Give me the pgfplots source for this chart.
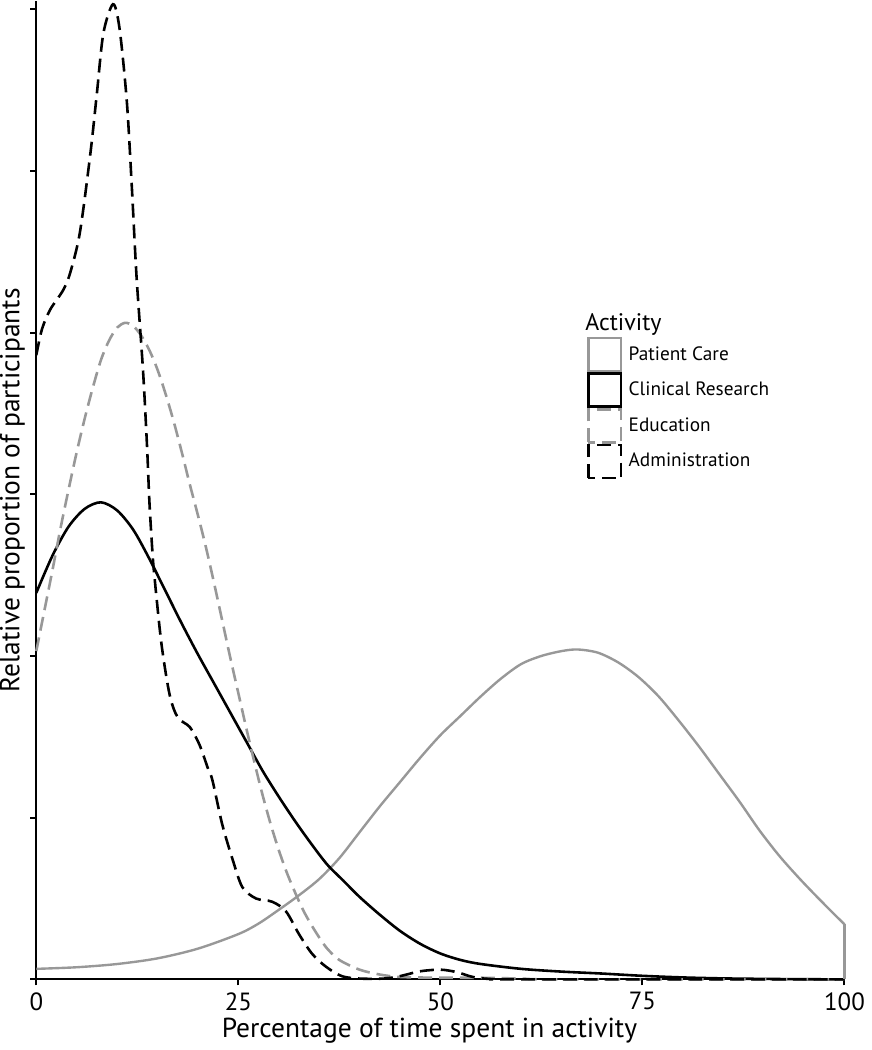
\documentclass[border=0pt]{standalone}
\usepackage{fontspec}
\setmainfont{PT Sans}
\usepackage{pgfplots}
\pgfplotsset{compat=1.18}
\definecolor{lgray}{RGB}{152,152,152}
\begin{document}
\begin{tikzpicture}
\begin{axis}[
  scale only axis,
  width=406pt, height=491.5pt,
  xmin=0, xmax=100, ymin=0, ymax=6.05,
  axis lines*=left,
  axis line style={line width=1pt},
  xtick={0,25,50,75,100},
  ytick={0,1,2,3,4,5,6},
  yticklabels={},
  tick align=outside,
  major tick length=3pt,
  tick style={line width=1pt, black},
  /pgf/number format/assume math mode=true,
  ticklabel style={font=\fontsize{12.5}{14}\selectfont},
  xlabel={Percentage of time spent in activity},
  ylabel={Relative proportion of participants},
  xlabel style={font=\fontsize{13.8}{15}\selectfont, yshift=3pt, xshift=-5.5pt},
  every axis y label/.style={at={([xshift=-5.5pt]rel axis cs:0,0.5)}, rotate=90, anchor=south, inner sep=0pt, font=\fontsize{13.8}{15}\selectfont},
  clip=false,
  legend image code/.code={\draw[#1] (0pt,-8.3pt) rectangle (16.5pt,8.3pt);},
  legend style={draw=none, fill=none, at={(axis cs:68.1,3.975)}, anchor=north west,
    font=\fontsize{9.7}{11}\selectfont, row sep=0pt, column sep=2.5pt, inner sep=0pt,
    nodes={inner sep=0.6pt, anchor=west}},
  legend cell align=left,
]
\addplot[lgray, line width=1.2pt, smooth] coordinates {
(0,0.065) (5,0.075) (10,0.095) (15,0.13) (20,0.19) (25,0.28) (27.5,0.345) (30,0.43)
(32.5,0.52) (35,0.62) (37.5,0.75) (40,0.91) (42.5,1.07) (45,1.22) (47.5,1.37)
(50,1.51) (52.5,1.63) (55,1.75) (57.5,1.86) (60,1.95) (62.5,2.00) (65,2.03) (67,2.04)
(69.5,2.02) (72,1.96) (74.5,1.87) (77,1.75) (79.5,1.60) (82,1.44) (84.5,1.27)
(87,1.10) (89.5,0.92) (92,0.76) (94.5,0.62) (97,0.49) (100,0.34)};
\addlegendentry{Patient Care}
\addplot[black, line width=1.3pt, smooth] coordinates {
(0,2.39) (2,2.62) (4,2.80) (6,2.91) (8,2.95) (10,2.90) (12,2.78) (14,2.60) (16,2.40)
(18,2.20) (20,2.01) (22,1.83) (24,1.65) (26,1.47) (28,1.29) (30,1.13) (32,0.98)
(34,0.84) (36,0.71) (38,0.61) (40,0.51) (42.5,0.40) (45,0.30) (47.5,0.22) (50,0.16)
(52.5,0.12) (55,0.095) (60,0.065) (65,0.048) (70,0.036) (75,0.022) (80,0.012)
(85,0.006) (90,0.003) (95,0.001) (100,0)};
\addlegendentry{Clinical Research}
\addplot[lgray, line width=1.3pt, smooth, dash pattern=on 7pt off 3.5pt] coordinates {
(0,2.03) (1,2.28) (2,2.53) (3,2.79) (4,3.03) (5,3.26) (6,3.47) (7,3.66) (8,3.83)
(9,3.95) (10,4.03) (11,4.06) (12,4.04) (13,3.98) (14,3.89) (15,3.77) (16,3.62)
(17,3.45) (18,3.26) (19,3.06) (20,2.87) (21,2.67) (22,2.45) (23,2.22) (24,1.99)
(25,1.77) (26,1.55) (27,1.34) (28,1.14) (29,0.96) (30,0.80) (31,0.66) (32,0.54)
(33,0.43) (34,0.34) (35,0.26) (36,0.19) (37.5,0.12) (40,0.06) (42.5,0.03) (45,0.015)
(50,0.01) (55,0.01) (60,0.005) (65,0) (100,0)};
\addlegendentry{Education}
\addplot[black, line width=1.3pt, smooth, dash pattern=on 7pt off 3.5pt] coordinates {
(0,3.86) (0.7,4.02) (1.7,4.14) (3.3,4.26) (4.2,4.37) (5.4,4.62) (6.7,5.11) (7.5,5.48)
(8.3,5.85) (9.5,6.03) (10.3,5.88) (11.2,5.43) (11.8,4.92) (12.4,4.35) (13.2,3.77)
(13.7,3.3) (14.0,2.95) (14.4,2.62) (14.7,2.45) (15.5,2.07) (16.5,1.76) (17.5,1.62)
(19,1.56) (20.2,1.45) (21.2,1.31) (21.8,1.23) (23,0.96) (24.3,0.74) (25.5,0.57)
(27.2,0.50) (29.2,0.48) (30.9,0.42) (32.5,0.28) (34.1,0.16) (35.8,0.08) (37.8,0.02)
(40,0.005) (43,0.005) (45,0.02) (47.5,0.05) (50,0.06) (52,0.045) (54,0.015)
(56,0.003) (60,0) (100,0)};
\addlegendentry{Administration}
\addplot[lgray, line width=1.2pt, forget plot] coordinates {(100,0.34) (100,0)};
\node[anchor=base west, font=\fontsize{12}{13}\selectfont, inner sep=0pt] at (axis cs:67.9,4.01) {Activity};
\end{axis}
\end{tikzpicture}
\end{document}
